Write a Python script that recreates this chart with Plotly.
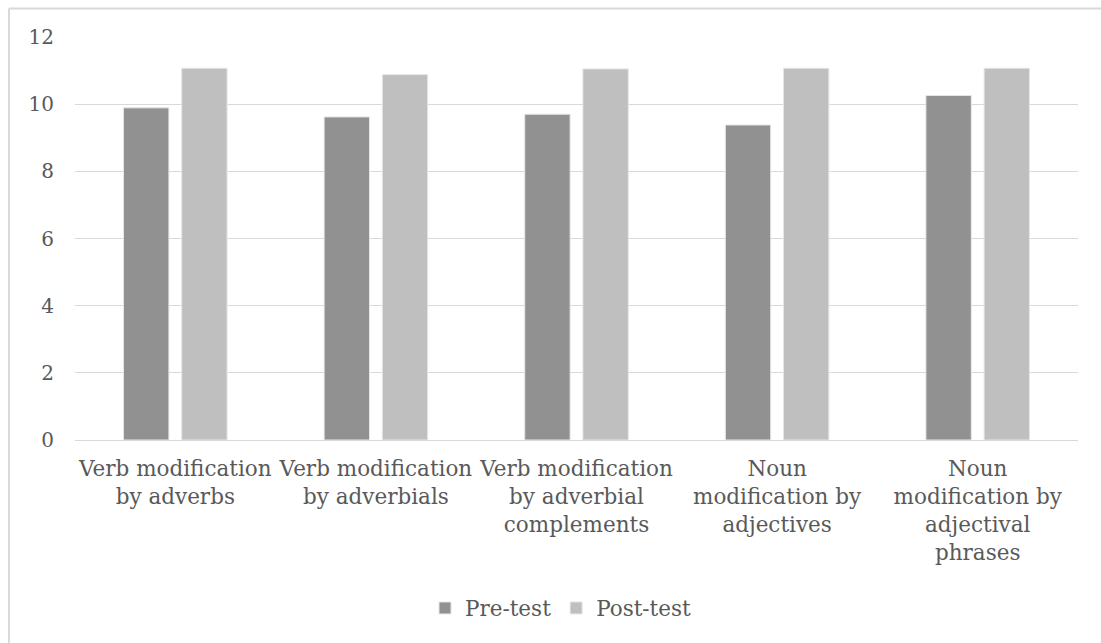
import plotly.graph_objects as go

categories = [
    "Verb modification<br>by adverbs",
    "Verb modification<br>by adverbials",
    "Verb modification<br>by adverbial<br>complements",
    "Noun<br>modification by<br>adjectives",
    "Noun<br>modification by<br>adjectival<br>phrases",
]
pre_test = [9.89, 9.62, 9.70, 9.38, 10.26]
post_test = [11.07, 10.88, 11.05, 11.07, 11.07]
y_ticks = [0, 2, 4, 6, 8, 10, 12]

FONT = "DejaVu Serif"
TXT = "#595959"

W, H = 1101, 643
L, R, T, B = 75, 23, 37, 203
pw, ph = W - L - R, H - T - B

fig = go.Figure()
fig.add_trace(go.Bar(name="Pre-test", x=categories, y=pre_test,
                     marker=dict(color="#919191", line=dict(color="#e6e6e6", width=1))))
fig.add_trace(go.Bar(name="Post-test", x=categories, y=post_test,
                     marker=dict(color="#bfbfbf", line=dict(color="#e6e6e6", width=1))))

def px_x(p):
    return (p - L) / pw

def px_y(p):
    return (H - B - p) / ph

fig.update_layout(
    width=W, height=H,
    margin=dict(l=L, r=R, t=T, b=B),
    paper_bgcolor="white", plot_bgcolor="white",
    barmode="group", bargap=0.42, bargroupgap=0.22,
    font=dict(family=FONT, size=21, color=TXT),
    xaxis=dict(showgrid=False, showline=True, linecolor="#d9d9d9", linewidth=1,
               ticks="", tickfont=dict(family=FONT, size=21.5, color=TXT),
               ticklabelstandoff=9, tickangle=0),
    yaxis=dict(range=[0, 12], tickvals=y_ticks, showgrid=True, gridcolor="#d9d9d9",
               gridwidth=1, zeroline=False, showline=False, ticks="",
               tickfont=dict(family=FONT, size=20, color=TXT),
               ticklabelstandoff=20),
    legend=dict(orientation="h", x=px_x(561), xanchor="center", y=px_y(608), yanchor="middle",
                font=dict(family=FONT, size=21.5, color=TXT), itemwidth=30,
                traceorder="normal"),
    showlegend=True,
    shapes=[
        dict(type="line", xref="paper", yref="paper", x0=px_x(9), x1=px_x(W + 5),
             y0=px_y(8.5), y1=px_y(8.5), line=dict(color="#d9d9d9", width=2)),
        dict(type="line", xref="paper", yref="paper", x0=px_x(9), x1=px_x(9),
             y0=px_y(8.5), y1=px_y(H + 5), line=dict(color="#d9d9d9", width=2)),
    ],
)

fig.write_html("out.html")
